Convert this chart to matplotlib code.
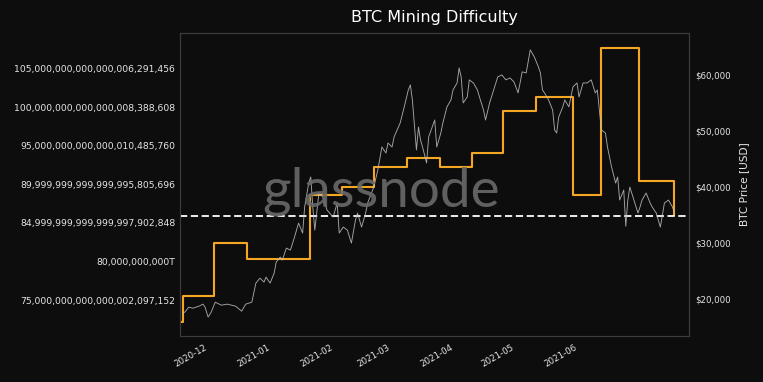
import datetime as dt
import matplotlib
matplotlib.use("Agg")
import matplotlib.pyplot as plt
from matplotlib.ticker import FuncFormatter

# days counted from 2020-12-01
base = dt.datetime(2020, 12, 1)

price_day = [-13, -12, -10, -8, -5, -3, -2, -0.5, 1, 3, 6, 9, 13, 16, 18, 21, 23, 25, 27, 28,
             30, 32, 33, 35, 36, 38, 40, 42, 44, 46, 47, 49, 50, 51, 52, 54, 56, 58, 61, 63,
             64, 66, 68, 70, 72, 73, 75, 77, 78, 81, 83, 85, 87, 88, 90, 91, 94, 96, 98, 99,
             100, 102, 103, 104, 105, 107, 108, 111, 112, 114, 115, 117, 119, 120, 122, 123, 124, 125, 127, 128,
             130, 132, 133, 135, 136, 138, 140, 142, 144, 146, 148, 150, 152, 153, 154, 156, 158, 160, 162, 163,
             164, 165, 167, 169, 170, 171, 172, 174, 175, 177, 179, 181, 182, 184, 186, 188, 190, 191, 193, 195,
             196, 198, 200, 201, 202, 204, 205, 206, 207, 209, 211, 212, 213, 215, 217, 218, 220, 222, 224, 226,
             228, 229]
price_usd = [17500, 17680, 18570, 18390, 18750, 19110, 18570, 16800, 17680, 19460, 18930, 19110, 18750, 17860, 19110, 19460, 22860, 23750, 23040, 23930,
             22860, 24640, 26610, 27500, 26960, 29110, 28750, 31070, 33570, 31790, 36430, 40710, 41790, 36430, 32320, 38930, 38210, 35890, 34640, 37140,
             31790, 32860, 32320, 30000, 34110, 35360, 32860, 35360, 37140, 40000, 43040, 47140, 46070, 47860, 47140, 48930, 51430, 54290, 57320, 58210,
             55540, 46610, 50710, 48390, 47140, 44290, 48930, 51960, 47140, 49640, 51430, 54290, 55540, 57320, 58570, 61250, 59640, 55000, 56070, 59110,
             58570, 57320, 56070, 53750, 51960, 55000, 57320, 59640, 60000, 59110, 59460, 58750, 56790, 58570, 60540, 60360, 64460, 63210, 61430, 60360,
             57320, 56790, 55540, 53750, 50180, 49640, 52500, 54290, 55540, 54290, 57860, 58570, 56070, 58570, 58570, 59110, 56790, 57320, 50180, 49640,
             47140, 43570, 40710, 41790, 37680, 39460, 33000, 37680, 40000, 37680, 35360, 36430, 37680, 38930, 37140, 36430, 35360, 32860, 37140, 37680,
             36430, 35360]

# difficulty steps (left axis, in units of 1e18)
diff_day = [-14.3, -12.8, 2.2, 18.8, 49.7, 65.4, 81.3, 97.2, 113.6, 129.2, 144.8, 160.7, 178.9, 192.6, 211.7, 228.7]
diff_val = [72.15, 75.6, 82.4, 80.3, 88.6, 89.6, 92.2, 93.4, 92.2, 94.0, 99.5, 101.3, 88.6, 107.6, 90.4, 86.0]

ref_level = 85.9

left_ticks = [75, 80, 85, 90, 95, 100, 105]
left_labels = ["75,000,000,000,000,002,097,152", "80,000,000,000T",
               "84,999,999,999,999,997,902,848", "89,999,999,999,999,995,805,696",
               "95,000,000,000,000,010,485,760", "100,000,000,000,000,008,388,608",
               "105,000,000,000,000,006,291,456"]
price_ticks = [20000, 30000, 40000, 50000, 60000]
month_days = [0, 31, 62, 90, 121, 151, 182]
month_labels = ["2020-12", "2021-01", "2021-02", "2021-03", "2021-04", "2021-05", "2021-06"]


def to_dates(days):
    return [base + dt.timedelta(days=d) for d in days]


bg = "#0d0d0d"
txt = "#e6e6e6"

fig = plt.figure(figsize=(7.63, 3.82), dpi=100, facecolor=bg)
ax = fig.add_axes([0.236, 0.120, 0.667, 0.794])
ax.set_facecolor(bg)
ax2 = ax.twinx()

ax.plot(to_dates(diff_day), diff_val, drawstyle="steps-post", color="#f5a623", lw=1.5, zorder=3)
ax.axhline(ref_level, color="white", lw=1.3, ls=(0, (4, 2)), zorder=4)
ax2.plot(to_dates(price_day), price_usd, color="#c0c0c0", lw=0.65, alpha=0.85)

ax.set_xlim(base + dt.timedelta(days=-14.3), base + dt.timedelta(days=236.1))
ax.set_ylim(70.34, 109.6)
ax2.set_ylim(13400, 67500)

ax.set_yticks(left_ticks)
ax.set_yticklabels(left_labels)
ax2.set_yticks(price_ticks)
ax2.yaxis.set_major_formatter(FuncFormatter(lambda v, p: f"${v:,.0f}"))
ax.set_xticks(to_dates(month_days))
ax.set_xticklabels(month_labels, rotation=30, ha="right")

ax.tick_params(axis="y", length=0, pad=3.5, labelsize=6.7, labelcolor=txt)
ax.tick_params(axis="x", length=0, pad=5, labelsize=6.2, labelcolor=txt)
ax2.tick_params(axis="y", length=0, pad=4.3, labelsize=6.2, labelcolor=txt)
ax2.set_ylabel("BTC Price [USD]", color=txt, fontsize=7.6, labelpad=6)

for a in (ax, ax2):
    for s in a.spines.values():
        s.set_color("#3c3c3c")
        s.set_linewidth(0.8)

ax.set_title("BTC Mining Difficulty", color="white", fontsize=11.5, pad=8)
fig.text(0.5, 0.5, "glassnode", color="#6a6a6a", fontsize=39.5, family="Lato",
         ha="center", va="center", alpha=0.9, zorder=0)

fig.savefig("out.png", dpi=100, facecolor=bg)
